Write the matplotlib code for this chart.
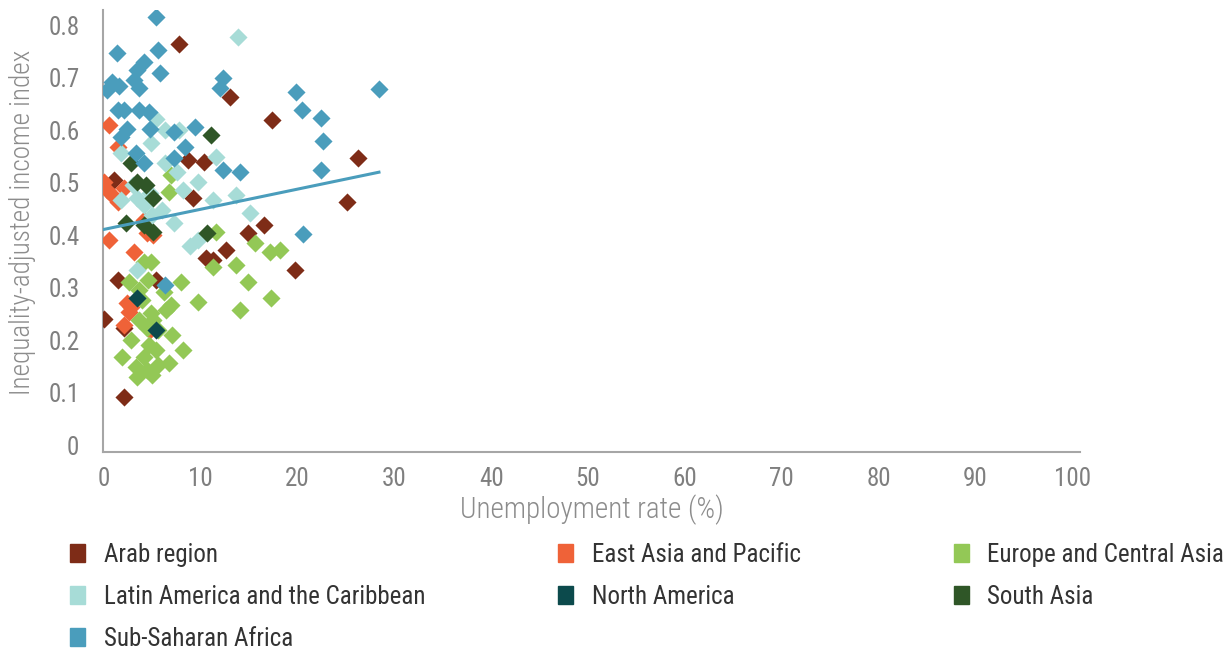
import matplotlib
matplotlib.use('Agg')
import matplotlib.pyplot as plt
from matplotlib.patches import Patch

plt.rcParams['font.family'] = ['Roboto Condensed', 'Liberation Sans Narrow', 'DejaVu Sans']
plt.rcParams['font.stretch'] = 'condensed'

# Unemployment rate (%) and inequality-adjusted income index, by region
arab_x = [7.8, 13.0, 17.4, 26.2, 25.1, 8.7, 10.3, 9.2, 14.9, 16.5, 12.6, 10.5,
          11.3, 19.7, 0.0, 2.1, 2.1, 1.0, 1.5, 5.4]
arab_y = [0.764, 0.663, 0.619, 0.547, 0.463, 0.543, 0.539, 0.470, 0.404, 0.419,
          0.371, 0.356, 0.352, 0.333, 0.240, 0.223, 0.091, 0.505, 0.314, 0.314]

eap_x = [0.5, 1.5, 0.0, 0.3, 1.0, 2.1, 0.5, 3.1, 4.1, 4.4, 5.1, 2.8, 2.6, 2.1,
         4.8, 2.4, 1.5]
eap_y = [0.610, 0.568, 0.501, 0.486, 0.472, 0.490, 0.390, 0.368, 0.429, 0.404,
         0.400, 0.263, 0.253, 0.229, 0.219, 0.270, 0.463]

eca_x = [4.1, 4.9, 3.6, 4.5, 6.2, 6.4, 4.9, 3.6, 2.8, 4.4, 5.6, 7.0, 1.9, 5.4,
         8.2, 4.1, 3.3, 4.4, 5.0, 3.4, 6.7, 11.3, 8.0, 9.7, 11.6, 13.6, 14.9,
         14.1, 15.6, 17.1, 18.2, 17.2, 6.9, 6.7, 3.9, 5.6, 4.6, 2.6, 5.1, 6.9]
eca_y = [0.348, 0.348, 0.295, 0.314, 0.291, 0.257, 0.252, 0.238, 0.200, 0.224,
         0.219, 0.210, 0.167, 0.181, 0.181, 0.167, 0.148, 0.143, 0.133, 0.129,
         0.156, 0.339, 0.310, 0.272, 0.406, 0.343, 0.310, 0.257, 0.385, 0.368,
         0.371, 0.280, 0.514, 0.482, 0.276, 0.152, 0.190, 0.310, 0.238, 0.267]

lac_x = [13.8, 5.4, 7.7, 6.3, 4.9, 1.8, 11.6, 9.7, 8.2, 6.3, 7.5, 3.4, 1.8,
         13.6, 11.3, 15.1, 7.2, 6.0, 9.7, 8.9, 3.4, 4.1, 4.8, 3.0, 5.0]
lac_y = [0.777, 0.621, 0.600, 0.600, 0.575, 0.556, 0.549, 0.501, 0.486, 0.537,
         0.520, 0.470, 0.467, 0.476, 0.467, 0.442, 0.423, 0.448, 0.390, 0.379,
         0.333, 0.457, 0.480, 0.495, 0.438]

na_x = [3.4, 5.4]
na_y = [0.280, 0.219]

sa_x = [11.1, 2.8, 3.4, 4.3, 5.1, 2.3, 4.1, 5.1, 10.6]
sa_y = [0.590, 0.537, 0.501, 0.495, 0.470, 0.423, 0.419, 0.406, 0.404]

ssa_x = [5.4, 1.3, 5.6, 5.8, 4.1, 3.4, 0.3, 0.8, 1.6, 3.1, 3.6, 12.3, 12.0,
         28.4, 19.8, 20.5, 22.4, 22.6, 22.4, 20.6, 1.5, 2.1, 3.6, 4.6, 4.8, 2.4,
         1.8, 9.4, 7.2, 3.3, 4.1, 8.4, 7.2, 14.0, 12.3, 6.3]
ssa_y = [0.815, 0.747, 0.752, 0.710, 0.730, 0.714, 0.676, 0.691, 0.684, 0.695,
         0.680, 0.699, 0.680, 0.678, 0.672, 0.638, 0.623, 0.579, 0.524, 0.402,
         0.638, 0.638, 0.638, 0.634, 0.602, 0.602, 0.588, 0.606, 0.596, 0.556,
         0.537, 0.568, 0.547, 0.520, 0.524, 0.305]

# linear trend line
trend_x = [0.0, 28.4]
trend_y = [0.411, 0.520]

regions = [
    ('Arab region', arab_x, arab_y, '#7E2C17'),
    ('East Asia and Pacific', eap_x, eap_y, '#EF6238'),
    ('Europe and Central Asia', eca_x, eca_y, '#93C856'),
    ('Latin America and the Caribbean', lac_x, lac_y, '#A7DCD7'),
    ('North America', na_x, na_y, '#0C4A4C'),
    ('South Asia', sa_x, sa_y, '#2F5627'),
    ('Sub-Saharan Africa', ssa_x, ssa_y, '#4A9DBC'),
]

fig = plt.figure(figsize=(12.32, 6.49), dpi=100)
ax = fig.add_axes([0.0836, 0.3035, 0.793, 0.681])

for name, xs, ys, col in regions:
    ax.scatter(xs, ys, marker='D', s=85, color=col, linewidths=0, zorder=3)
ax.plot(trend_x, trend_y, color='#4A9DBC', lw=2.2, zorder=4)

ax.set_xlim(-0.1, 100.8)
ax.set_ylim(-0.0133, 0.829)
ax.set_xticks(range(0, 101, 10))
ax.set_yticks([0, 0.1, 0.2, 0.3, 0.4, 0.5, 0.6, 0.7, 0.8])
ax.set_yticklabels(['0', '0.1', '0.2', '0.3', '0.4', '0.5', '0.6', '0.7', '0.8'])
ax.tick_params(axis='both', length=0, labelsize=18, colors='#7F7F7F')
ax.tick_params(axis='y', pad=17)
ax.tick_params(axis='x', pad=11)

for side in ['top', 'right']:
    ax.spines[side].set_visible(False)
for side in ['left', 'bottom']:
    ax.spines[side].set_color('#A6A6A6')
    ax.spines[side].set_linewidth(1.5)

ax.set_xlabel('Unemployment rate (%)', fontsize=21, color='#8C8C8C', weight='light')
ax.set_ylabel('Inequality-adjusted income index', fontsize=19.5, color='#8C8C8C',
              weight='light')
ax.xaxis.set_label_coords(0.5, -0.097)
ax.yaxis.set_label_coords(-0.069, 0.52)

# legend laid out in three columns, row by row like the original
cols = [[0, 3, 6], [1, 4], [2, 5]]
col_x = [0.057, 0.453, 0.774]
for idx, x0 in zip(cols, col_x):
    handles = [Patch(color=regions[i][3], label=regions[i][0]) for i in idx]
    fig.legend(handles=handles, loc='upper left', bbox_to_anchor=(x0, 0.164),
               frameon=False, fontsize=18, labelcolor='#333333',
               handlelength=0.6, handleheight=0.75, handletextpad=0.75,
               labelspacing=0.72, borderaxespad=0, borderpad=0)

fig.savefig('out.png', dpi=100)
